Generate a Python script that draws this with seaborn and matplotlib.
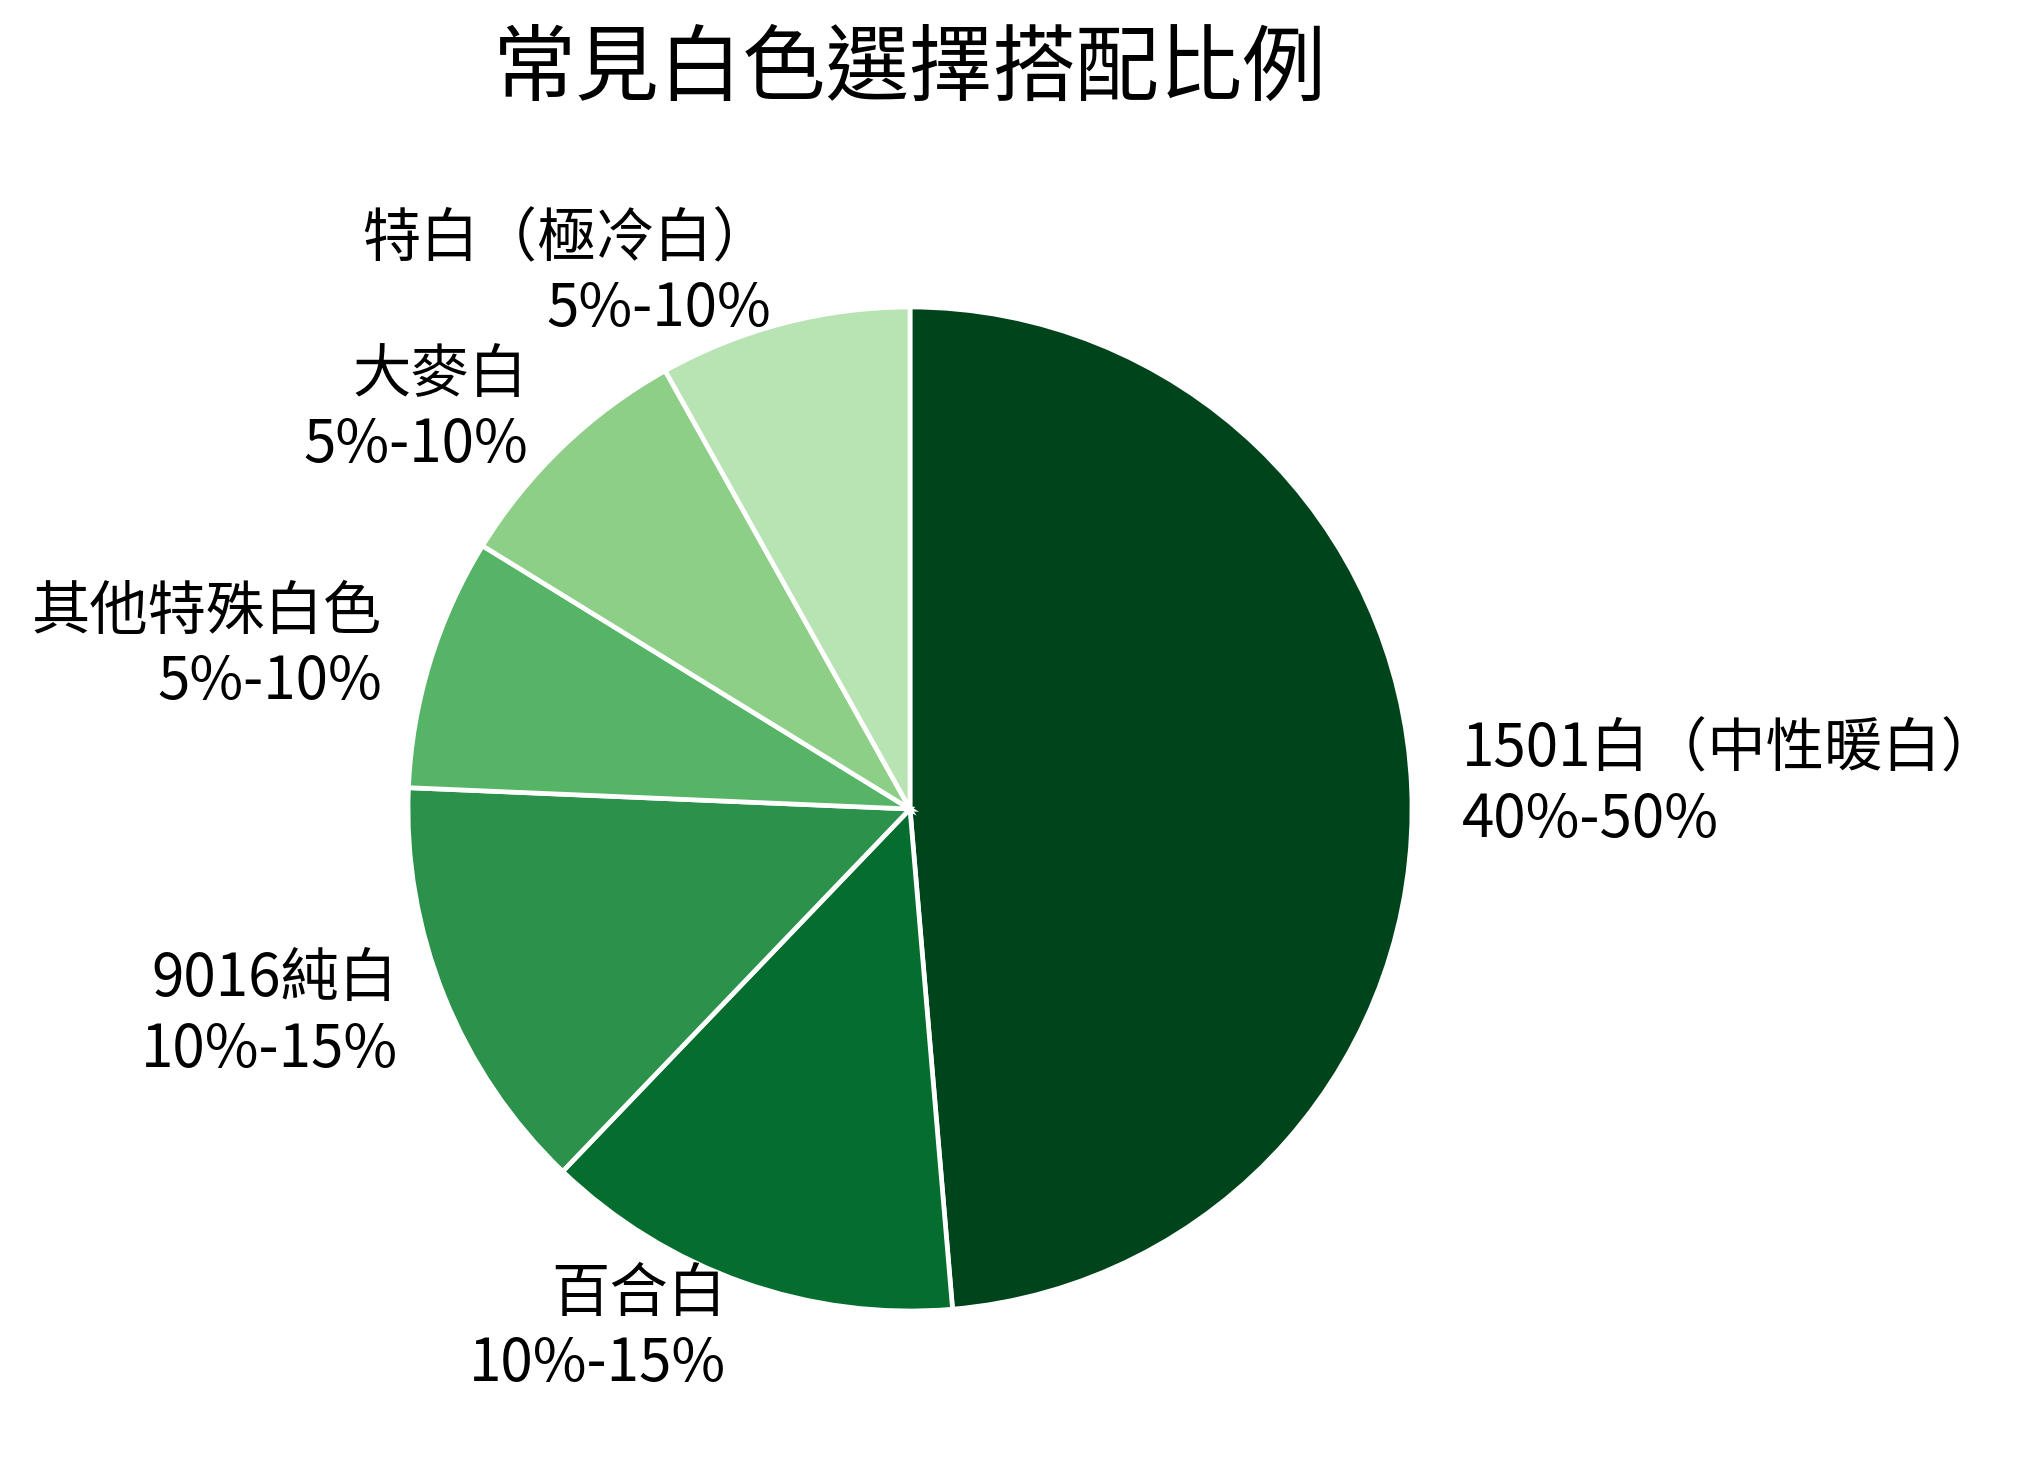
import matplotlib
matplotlib.use("Agg")
import matplotlib.pyplot as plt
import seaborn as sns

# Data
categories = ["1501白（中性暖白）", "百合白", "9016純白", "其他特殊白色", "大麥白", "特白（極冷白）"]
ranges = ["40%-50%", "10%-15%", "10%-15%", "5%-10%", "5%-10%", "5%-10%"]
values = [45, 12.5, 12.5, 7.5, 7.5, 7.5]
colors = ["#00441b", "#056e2e", "#2b914b", "#56b467", "#8ecf88", "#b8e3b3"]
title = "常見白色選擇搭配比例"

sns.set_theme(style="white")
plt.rcParams["font.family"] = ["Noto Sans CJK TC", "DejaVu Sans"]

W, H = 2030, 1468
fig = plt.figure(figsize=(W / 100, H / 100), dpi=100)
cx, cy, r = 910, 809, 502
ax = fig.add_axes([(cx - r) / W, 1 - (cy + r) / H, 2 * r / W, 2 * r / H])

labels = [f"{c}\n{p}" for c, p in zip(categories, ranges)]
wedges, texts = ax.pie(
    values,
    labels=labels,
    colors=colors,
    startangle=90,
    counterclock=False,
    labeldistance=1.1,
    wedgeprops=dict(edgecolor="white", linewidth=3.4),
    textprops=dict(fontsize=42, color="black"),
)
ax.set_xlim(-1, 1)
ax.set_ylim(-1, 1)
ax.set_aspect("equal")
ax.axis("off")

fig.text(cx / W, 1 - 70 / H, title, ha="center", va="center", fontsize=60, color="black")

fig.savefig("out.png", dpi=100, facecolor="white")
